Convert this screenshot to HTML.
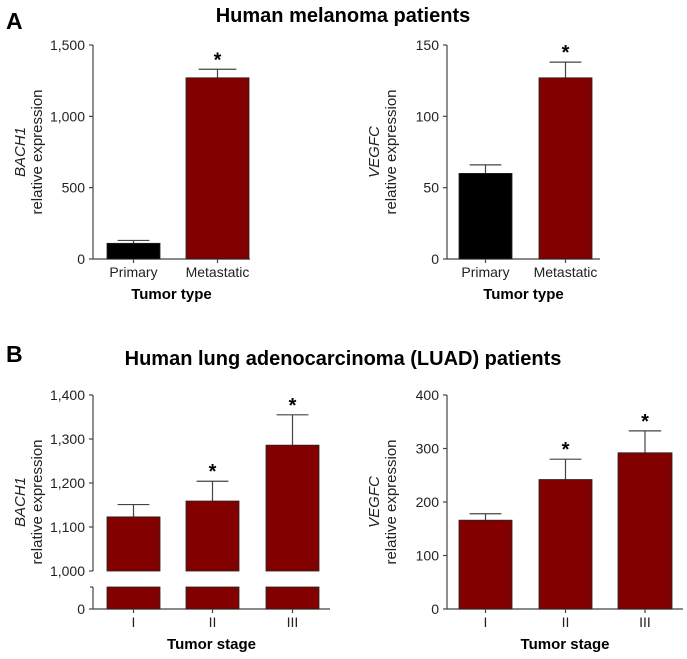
<!DOCTYPE html>
<html><head><meta charset="utf-8"><style>
body{margin:0;background:#fff}
svg{display:block;font-family:"Liberation Sans",Arial,sans-serif}
</style></head><body>
<svg id="c" width="687" height="659" viewBox="0 0 687 659">
<text x="6" y="29" font-size="23" font-weight="bold">A</text>
<text x="343" y="22" font-size="20" font-weight="bold" text-anchor="middle">Human melanoma patients</text>
<text x="6" y="362" font-size="23" font-weight="bold">B</text>
<text x="343" y="365" font-size="20" font-weight="bold" text-anchor="middle">Human lung adenocarcinoma (LUAD) patients</text>
</svg>
<script>
const aCats=["Primary","Metastatic"];
const aBach1=[110,1270];
const aBach1Err=[130,1330];
const aVegfc=[60,127];
const aVegfcErr=[66,138];
const aSig=[false,true];
const aBachTicks=[0,500,1000,1500];
const aBachTickLabels=["0","500","1,000","1,500"];
const aVegTicks=[0,50,100,150];
const aVegTickLabels=["0","50","100","150"];
const bCats=["I","II","III"];
const bBach1=[1123,1159,1286];
const bBach1Err=[1151,1204,1355];
const bVegfc=[166,242,292];
const bVegfcErr=[178,280,333];
const bSig=[false,true,true];
const bBachTicks=[1000,1100,1200,1300,1400];
const bBachTickLabels=["1,000","1,100","1,200","1,300","1,400"];
const bVegTicks=[0,100,200,300,400];
const bVegTickLabels=["0","100","200","300","400"];

const svg=document.getElementById('c');
const NS="http://www.w3.org/2000/svg";
function mk(t,a,txt){const e=document.createElementNS(NS,t);for(const k in a)e.setAttribute(k,a[k]);if(txt!=null)e.textContent=txt;svg.appendChild(e);return e;}
const RED="#830000";
function panel(o){
  const yTop=o.top,yBot=o.brk?o.brkTop:o.bottom;
  const y=v=>yBot-(v-o.vmin)/(o.vmax-o.vmin)*(yBot-yTop);
  let e=mk('line',{x1:o.ax,y1:yTop,x2:o.ax,y2:yBot,stroke:'#444','stroke-width':1.2});
  
  
  const xa=mk('line',{x1:o.ax,y1:o.bottom,x2:o.xEnd,y2:o.bottom,stroke:'#444','stroke-width':1.2});
  
  
  if(o.brk){
    mk('line',{x1:o.ax,y1:o.bottom-22,x2:o.ax,y2:o.bottom,stroke:'#444','stroke-width':1.2});
    mk('line',{x1:o.ax-3,y1:o.bottom-22,x2:o.ax,y2:o.bottom-22,stroke:'#444','stroke-width':1.2});
    mk('line',{x1:o.ax-4,y1:o.bottom,x2:o.ax,y2:o.bottom,stroke:'#444','stroke-width':1.2});
    let t=mk('text',{x:o.ax-8,y:o.bottom+5,'font-size':14,'text-anchor':'end',fill:'#222'},'0');
    
    
  }
  o.ticks.forEach((v,i)=>{
    mk('line',{x1:o.ax-4,y1:y(v),x2:o.ax,y2:y(v),stroke:'#444','stroke-width':1.2});
    const t=mk('text',{x:o.ax-8,y:y(v)+5,'font-size':14,'text-anchor':'end',fill:'#222'},o.labels[i]);
    
    
  });
  o.vals.forEach((v,i)=>{
    const b=o.bars[i],cx=b.x+b.w/2;
    const ey=y(o.errs[i]);
    mk('line',{x1:cx,y1:ey,x2:cx,y2:y(v),stroke:'#444','stroke-width':1.2});
    mk('line',{x1:cx-b.w*0.3,y1:ey,x2:cx+b.w*0.3,y2:ey,stroke:'#444','stroke-width':1.2});
    const r=mk('rect',{x:b.x,y:y(v),width:b.w,height:yBot-y(v),fill:o.colors[i],stroke:'#222','stroke-width':0.8});
    
    
    if(o.brk){mk('rect',{x:b.x,y:o.bottom-22,width:b.w,height:22,fill:o.colors[i],stroke:'#222','stroke-width':0.8});}
    if(o.sig[i]){const s=mk('text',{x:cx,y:ey-3,'font-size':20,'font-weight':'bold','text-anchor':'middle'},'*');
      
      }
    mk('line',{x1:cx,y1:o.bottom,x2:cx,y2:o.bottom+4,stroke:'#444','stroke-width':1.2});
    const l=mk('text',{x:cx,y:o.bottom+18,'font-size':14,'text-anchor':'middle',fill:'#222'},o.cats[i]);
    
    
  });
  const mid=(o.top+o.bottom)/2, gx=o.ax-68;
  const g=mk('text',{transform:`translate(${gx},${mid}) rotate(-90)`,'font-size':15,'font-style':'italic','text-anchor':'middle',fill:'#222'},o.gene);
  
  
  const st=mk('text',{transform:`translate(${gx+17},${mid}) rotate(-90)`,'font-size':15,'text-anchor':'middle',fill:'#222'},'relative expression');
  
  
  const xt=mk('text',{x:(o.ax+o.xEnd)/2,y:o.bottom+40,'font-size':15,'font-weight':'bold','text-anchor':'middle'},o.xTitle);
  
  
}
panel({id:'a-bach1',ax:93,top:45,bottom:259,vmin:0,vmax:1500,xEnd:250,bars:[{x:107,w:53},{x:186,w:63}],vals:aBach1,errs:aBach1Err,sig:aSig,ticks:aBachTicks,labels:aBachTickLabels,cats:aCats,colors:["#000",RED],gene:"BACH1",xTitle:"Tumor type"});
panel({id:'a-vegfc',ax:447,top:45,bottom:259,vmin:0,vmax:150,xEnd:600,bars:[{x:459,w:53},{x:539,w:53}],vals:aVegfc,errs:aVegfcErr,sig:aSig,ticks:aVegTicks,labels:aVegTickLabels,cats:aCats,colors:["#000",RED],gene:"VEGFC",xTitle:"Tumor type"});
panel({id:'b-bach1',ax:93,top:395,bottom:609,brk:true,brkTop:571,vmin:1000,vmax:1400,xEnd:330,bars:[{x:107,w:53},{x:186,w:53},{x:266,w:53}],vals:bBach1,errs:bBach1Err,sig:bSig,ticks:bBachTicks,labels:bBachTickLabels,cats:bCats,colors:[RED,RED,RED],gene:"BACH1",xTitle:"Tumor stage"});
panel({id:'b-vegfc',ax:447,top:395,bottom:609,vmin:0,vmax:400,xEnd:683,bars:[{x:459,w:53},{x:539,w:53},{x:618,w:54}],vals:bVegfc,errs:bVegfcErr,sig:bSig,ticks:bVegTicks,labels:bVegTickLabels,cats:bCats,colors:[RED,RED,RED],gene:"VEGFC",xTitle:"Tumor stage"});
</script>
</body></html>
